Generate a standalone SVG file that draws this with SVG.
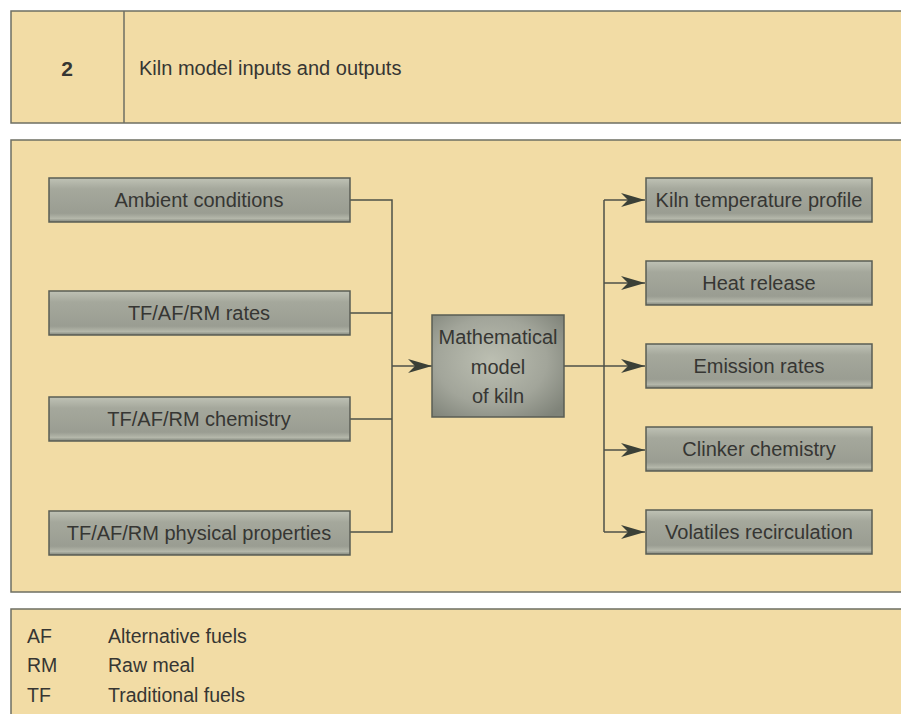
<svg xmlns="http://www.w3.org/2000/svg" width="901" height="714" viewBox="0 0 901 714">
<style>
.panel{fill:#f2dca5;stroke:#6e6f63;stroke-width:1.5}
.box{fill:url(#g);stroke:#5a5d54;stroke-width:1.5}
.t{font-family:"Liberation Sans",Arial,sans-serif;font-size:20px;fill:#363633;text-anchor:middle}
.l{font-family:"Liberation Sans",Arial,sans-serif;font-size:19.5px;fill:#363633}
.c{fill:none;stroke:#4e5148;stroke-width:1.5}
</style>
<defs>
<linearGradient id="g" x1="0" y1="0" x2="0" y2="1">
<stop offset="0" stop-color="#bfc2b5"/>
<stop offset="0.25" stop-color="#a5a89c"/>
<stop offset="0.8" stop-color="#9a9d92"/>
<stop offset="0.92" stop-color="#b4b7aa"/>
<stop offset="1" stop-color="#80847a"/>
</linearGradient>
<radialGradient id="rg" cx="0.45" cy="0.45" r="0.7">
<stop offset="0" stop-color="#bcbfb2"/>
<stop offset="0.6" stop-color="#a2a59a"/>
<stop offset="1" stop-color="#7f8379"/>
</radialGradient>
<marker id="a" viewBox="0 0 24 14" refX="24" refY="7" markerWidth="24" markerHeight="14" markerUnits="userSpaceOnUse" orient="auto">
<path d="M0,0 L24,7 L0,14 L7,7 Z" fill="#3b4037"/>
</marker>
</defs>
<g id="header">
<rect class="panel" x="11" y="11" width="900" height="112"/>
<line x1="124" y1="11" x2="124" y2="123" stroke="#6e6f63" stroke-width="1.5"/>
<text x="67" y="76" class="t" style="font-weight:bold;font-size:21px">2</text>
<text x="139" y="75" class="l" style="font-size:20px">Kiln model inputs and outputs</text>
</g>
<rect class="panel" x="11" y="140" width="900" height="452"/>
<rect class="panel" x="11" y="609" width="900" height="115"/>
<g id="connectors">
<path class="c" d="M350,200 H392 V532 H350 M350,313 H392 M350,419 H392"/>
<path class="c" d="M392,366 H432" marker-end="url(#a)"/>
<path class="c" d="M564,366 H604"/>
<path class="c" d="M604,200 V532"/>
<path class="c" d="M604,200 H645" marker-end="url(#a)"/>
<path class="c" d="M604,283 H645" marker-end="url(#a)"/>
<path class="c" d="M604,366 H645" marker-end="url(#a)"/>
<path class="c" d="M604,450 H645" marker-end="url(#a)"/>
<path class="c" d="M604,532 H645" marker-end="url(#a)"/>
</g>
<g id="in1"><rect class="box" x="49" y="178" width="301" height="44"/><text class="t" x="199" y="207">Ambient conditions</text></g>
<g id="in2"><rect class="box" x="49" y="291" width="301" height="44"/><text class="t" x="199" y="320">TF/AF/RM rates</text></g>
<g id="in3"><rect class="box" x="49" y="397" width="301" height="44"/><text class="t" x="199" y="426">TF/AF/RM chemistry</text></g>
<g id="in4"><rect class="box" x="49" y="511" width="301" height="44"/><text class="t" x="199" y="540">TF/AF/RM physical properties</text></g>
<g id="model"><rect x="432" y="315" width="132" height="102" fill="url(#rg)" stroke="#5a5d54" stroke-width="1.5"/>
<text class="t" x="498" y="344">Mathematical</text><text class="t" x="498" y="374">model</text><text class="t" x="498" y="403">of kiln</text></g>
<g id="out1"><rect class="box" x="646" y="178" width="226" height="44"/><text class="t" x="759" y="207">Kiln temperature profile</text></g>
<g id="out2"><rect class="box" x="646" y="261" width="226" height="44"/><text class="t" x="759" y="290">Heat release</text></g>
<g id="out3"><rect class="box" x="646" y="344" width="226" height="44"/><text class="t" x="759" y="373">Emission rates</text></g>
<g id="out4"><rect class="box" x="646" y="427" width="226" height="44"/><text class="t" x="759" y="456">Clinker chemistry</text></g>
<g id="out5"><rect class="box" x="646" y="510" width="226" height="44"/><text class="t" x="759" y="539">Volatiles recirculation</text></g>
<g id="legend">
<text class="l" x="27" y="643">AF</text><text class="l" x="108" y="643">Alternative fuels</text>
<text class="l" x="27" y="672">RM</text><text class="l" x="108" y="672">Raw meal</text>
<text class="l" x="27" y="702">TF</text><text class="l" x="108" y="702">Traditional fuels</text>
</g>
</svg>
